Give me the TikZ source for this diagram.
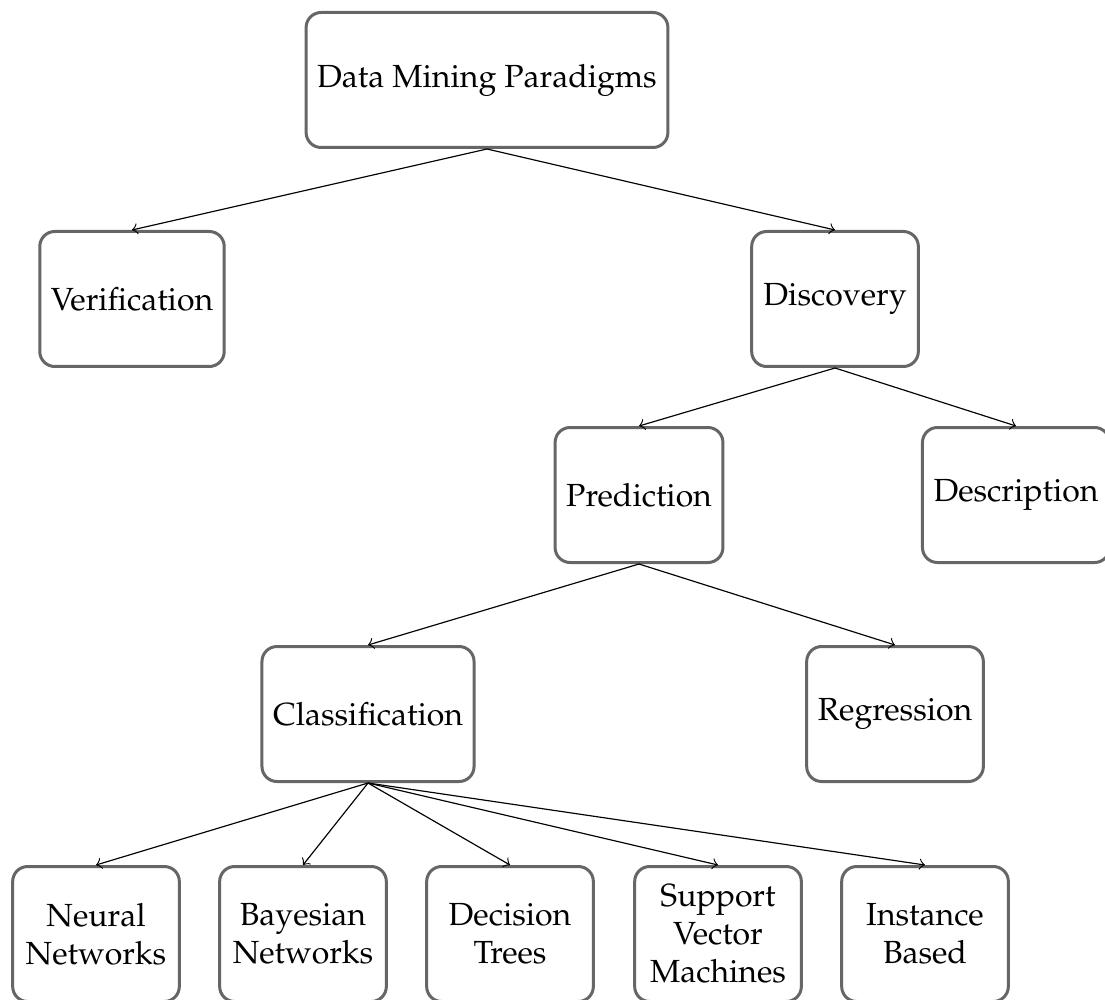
\documentclass[tikz,border=0pt]{standalone}
\usepackage[T1]{fontenc}
\usepackage{mathpazo}
\tikzset{
  box/.style={draw=black!60, line width=0.9pt, rounded corners=4.5pt,
    minimum height=40.5pt, minimum width=50pt, align=center, fill=white,
    font=\fontsize{9.6}{11.4}\selectfont},
  link/.style={->, line width=0.35pt, black}
}
\begin{document}
\begin{tikzpicture}[x=0.3pt, y=-0.3pt]
  \useasboundingbox (0,0) rectangle (1105,999);

  % tree levels
  \node[box] (root) at (487,80) {Data Mining Paradigms};
  \node[box] (ver) at (132,299) {Verification};
  \node[box] (dis) at (835,299) {Discovery};
  \node[box] (pre) at (639,495) {Prediction};
  \node[box] (des) at (1016,495) {Description};
  \node[box] (cla) at (368,714) {Classification};
  \node[box] (reg) at (895,714) {Regression};

  % classification methods
  \node[box] (nn)  at (96,934)  {Neural\\Networks};
  \node[box] (bn)  at (303,934) {Bayesian\\Networks};
  \node[box] (dt)  at (510,934) {Decision\\Trees};
  \node[box] (svm) at (718,934) {Support\\Vector\\Machines};
  \node[box] (ib)  at (925,934) {Instance\\Based};

  % connectors
  \draw[link] (root.south) -- (ver.north);
  \draw[link] (root.south) -- (dis.north);
  \draw[link] (dis.south) -- (pre.north);
  \draw[link] (dis.south) -- (des.north);
  \draw[link] (pre.south) -- (cla.north);
  \draw[link] (pre.south) -- (reg.north);
  \foreach \c in {nn,bn,dt,svm,ib}
    \draw[link] (cla.south) -- (\c.north);
\end{tikzpicture}
\end{document}
